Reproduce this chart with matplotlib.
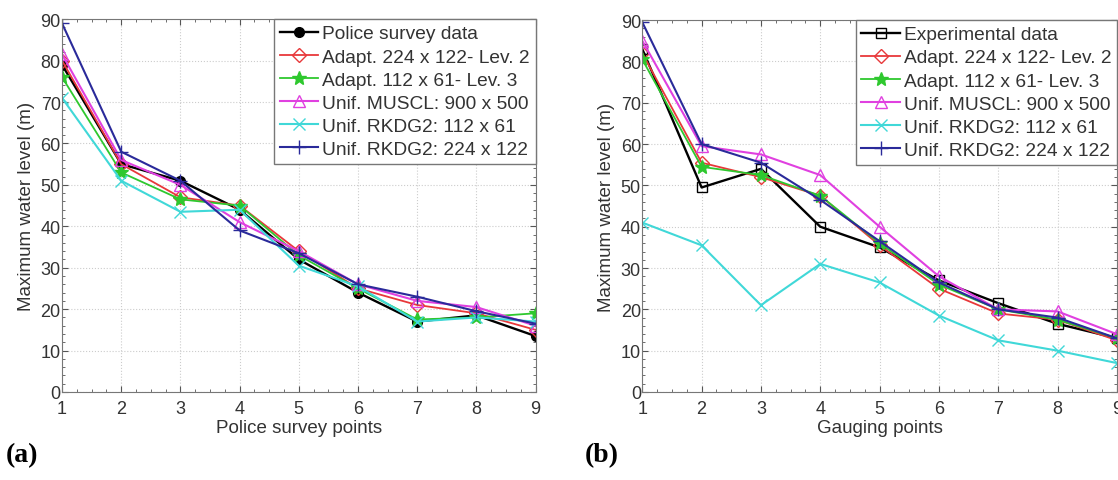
import numpy as np
import matplotlib
matplotlib.use('Agg')
import matplotlib.pyplot as plt
from matplotlib.ticker import MultipleLocator

matplotlib.rcParams.update({'font.family': 'Liberation Sans', 'font.size': 12})

pts = [1, 2, 3, 4, 5, 6, 7, 8, 9]

# panel (a): police survey points
a_police = [79, 55, 51, 44, 32, 24, 17, 18.5, 13.5]
a_ad224 = [80, 55, 47, 45, 34, 25, 21, 19, 15]
a_ad112 = [76, 53, 46.5, 45, 33, 25, 17.5, 18, 19]
a_muscl = [81.5, 56, 50, 41, 34, 26, 22, 20.5, 16]
a_rk112 = [71, 51, 43.5, 44, 30.5, 25.5, 17, 18, 17]
a_rk224 = [89, 58, 51, 39, 33.5, 26, 23, 19.5, 16.5]

# panel (b): gauging points
b_exp = [83, 49.5, 54, 40, 35, 27, 21.5, 16.5, 13]
b_ad224 = [82, 55.5, 52, 47.5, 35.5, 25, 19, 17.5, 12.5]
b_ad112 = [80.5, 54.5, 52.5, 47.5, 36, 26, 20, 17.5, 13]
b_muscl = [85, 59.5, 57.5, 52.5, 40, 28, 20, 19.5, 14]
b_rk112 = [41, 35.5, 21, 31, 26.5, 18.5, 12.5, 10, 7]
b_rk224 = [89.5, 60, 55.5, 46.5, 36.5, 26.5, 20, 18, 13]

labels_sim = ['Adapt. 224 x 122- Lev. 2', 'Adapt. 112 x 61- Lev. 3',
              'Unif. MUSCL: 900 x 500', 'Unif. RKDG2: 112 x 61', 'Unif. RKDG2: 224 x 122']

fig = plt.figure(figsize=(11.18, 4.81), dpi=100)
ax1 = fig.add_axes([0.0555, 0.183, 0.4235, 0.775])
ax2 = fig.add_axes([0.5745, 0.183, 0.4245, 0.773])


def draw(ax, first, first_label, first_style, sims, xlabel):
    mk, mfc = first_style
    ax.plot(pts, first, '-', color='k', marker=mk, mfc=mfc, mec='k', ms=7, lw=1.7, label=first_label)
    ax.plot(pts, sims[0], '-', color='#e8383a', marker='D', mfc='none', mec='#e8383a', ms=7, lw=1.3, label=labels_sim[0])
    ax.plot(pts, sims[1], '-', color='#2ec82e', marker='*', mfc='#2ec82e', mec='#2ec82e', ms=10, lw=1.3, label=labels_sim[1])
    ax.plot(pts, sims[2], '-', color='#e040e0', marker='^', mfc='none', mec='#e040e0', ms=9, lw=1.5, label=labels_sim[2])
    ax.plot(pts, sims[3], '-', color='#40d8d8', marker='x', mec='#40d8d8', ms=8, lw=1.5, label=labels_sim[3])
    ax.plot(pts, sims[4], '-', color='#2a2a9a', marker='+', mec='#2a2a9a', ms=10, lw=1.5, label=labels_sim[4])
    ax.set_xlim(1, 9)
    ax.set_ylim(0, 90)
    ax.xaxis.set_major_locator(MultipleLocator(1))
    ax.yaxis.set_major_locator(MultipleLocator(10))
    ax.xaxis.set_minor_locator(MultipleLocator(0.25))
    ax.yaxis.set_minor_locator(MultipleLocator(2))
    ax.tick_params(which='both', direction='in', top=True, right=True, colors='#555555',
                   labelcolor='#333333', labelsize=13)
    ax.tick_params(which='major', length=4)
    ax.tick_params(which='minor', length=2)
    ax.tick_params(axis='x', pad=6)
    ax.tick_params(axis='y', pad=1)
    for s in ax.spines.values():
        s.set_color('#777777')
    ax.grid(True, which='major', linestyle=':', color='#cccccc', linewidth=0.8)
    ax.set_xlabel(xlabel, fontsize=13.5, color='#333333', labelpad=1)
    ax.set_ylabel('Maximum water level (m)', fontsize=13.5, color='#333333', labelpad=4)
    leg = ax.legend(loc='upper right', fontsize=13.8, handlelength=2.0, handletextpad=0.2,
                    borderpad=0.3, labelspacing=0.3, borderaxespad=0.0, fancybox=False,
                    framealpha=1.0, edgecolor='#777777')
    leg.get_frame().set_linewidth(1.0)
    for t in leg.get_texts():
        t.set_color('#333333')


draw(ax1, a_police, 'Police survey data', ('o', 'k'),
     [a_ad224, a_ad112, a_muscl, a_rk112, a_rk224], 'Police survey points')
draw(ax2, b_exp, 'Experimental data', ('s', 'none'),
     [b_ad224, b_ad112, b_muscl, b_rk112, b_rk224], 'Gauging points')

fig.text(0.005, 0.04, '(a)', fontsize=20, fontweight='bold', family='Liberation Serif')
fig.text(0.523, 0.04, '(b)', fontsize=20, fontweight='bold', family='Liberation Serif')

fig.savefig('out.png', dpi=100)
